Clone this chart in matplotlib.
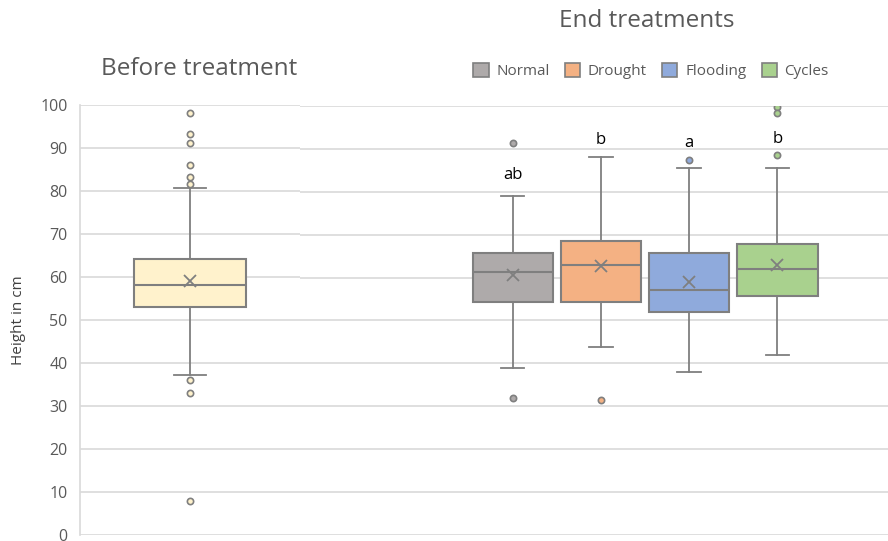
import numpy as np
import matplotlib
matplotlib.use('Agg')
import matplotlib.pyplot as plt
from matplotlib.patches import Patch

plt.rcParams['font.family'] = ['Open Sans', 'DejaVu Sans']

# Before treatment (one group)
before_q1 = 53.0
before_med = 58.1
before_q3 = 64.2
before_mean = 59.0
before_whislo = 37.2
before_whishi = 80.7
before_fliers = [98.1, 93.2, 91.2, 86.1, 83.2, 81.6, 36.0, 33.1, 8.0]

# End treatments
groups = ['Normal', 'Drought', 'Flooding', 'Cycles']
end_q1 = [54.4, 54.3, 52.0, 55.6]
end_med = [61.2, 63.0, 57.1, 61.9]
end_q3 = [65.8, 68.6, 65.8, 67.8]
end_mean = [60.6, 62.6, 58.9, 63.0]
end_whislo = [38.9, 43.9, 38.1, 41.9]
end_whishi = [79.0, 88.1, 85.5, 85.5]
end_fliers = [[91.4, 31.9], [31.5], [87.4], [99.8, 98.4, 88.5]]
letters = ['ab', 'b', 'a', 'b']
letter_y = [82.0, 90.2, 89.5, 90.4]

colors = ['#AEAAAA', '#F4B183', '#8FAADC', '#A9D18E']
before_color = '#FFF2CC'
edge = '#7F7F7F'
txt = '#595959'

W, H = 888, 541
fig = plt.figure(figsize=(W / 100, H / 100), dpi=100)


def add_px_axes(x0, y0, x1, y1):
    return fig.add_axes([x0 / W, 1 - y1 / H, (x1 - x0) / W, (y1 - y0) / H])


ax1 = add_px_axes(80, 105, 300, 535)
ax2 = add_px_axes(300, 106, 990, 535)

for ax in (ax1, ax2):
    ax.set_ylim(0, 100)
    ax.set_yticks(np.arange(0, 101, 10))
    ax.grid(axis='y', color='#D9D9D9', linewidth=1.2)
    ax.set_axisbelow(True)
    for s in ax.spines.values():
        s.set_visible(False)
    ax.tick_params(axis='y', length=0)

ax1.spines['left'].set_visible(True)
ax1.spines['left'].set_color('#D9D9D9')
ax1.spines['left'].set_linewidth(1.2)
ax1.tick_params(axis='y', labelsize=11.5, labelcolor=txt, pad=9)
ax1.set_ylabel('Height in cm', fontsize=11, color='#404040', labelpad=10)
ax2.tick_params(axis='y', labelleft=False)


def draw_box(ax, stat, pos, width, color):
    ax.bxp([stat], positions=[pos], widths=[width], capwidths=[width * 0.29],
           showmeans=True, patch_artist=True,
           boxprops=dict(facecolor=color, edgecolor=edge, linewidth=1.5),
           medianprops=dict(color=edge, linewidth=1.5),
           whiskerprops=dict(color=edge, linewidth=1.3),
           capprops=dict(color=edge, linewidth=1.3),
           meanprops=dict(marker='x', markeredgecolor=edge, markersize=9,
                          markeredgewidth=1.3),
           flierprops=dict(marker='o', markerfacecolor=color,
                           markeredgecolor=edge, markersize=4.5,
                           markeredgewidth=1.2))


before = dict(q1=before_q1, med=before_med, q3=before_q3, mean=before_mean,
              whislo=before_whislo, whishi=before_whishi, fliers=before_fliers)
draw_box(ax1, before, 0.5, 0.51, before_color)
ax1.set_xlim(0, 1)
ax1.set_xticks([])

for i in range(len(groups)):
    st = dict(q1=end_q1[i], med=end_med[i], q3=end_q3[i], mean=end_mean[i],
              whislo=end_whislo[i], whishi=end_whishi[i], fliers=end_fliers[i])
    draw_box(ax2, st, i, 0.91, colors[i])
    ax2.text(i, letter_y[i], letters[i], ha='center', va='bottom',
             fontsize=12, color='black')
ax2.set_xlim(1.5 - 3.91, 1.5 + 3.91)
ax2.set_xticks([])

fig.text(199 / W, 1 - 69 / H, 'Before treatment', ha='center', va='center',
         fontsize=17.5, color=txt)
fig.text(647 / W, 1 - 21 / H, 'End treatments', ha='center', va='center',
         fontsize=17.5, color=txt)

handles = [Patch(facecolor=c, edgecolor=edge, linewidth=1.2, label=g)
           for c, g in zip(colors, groups)]
fig.legend(handles=handles, loc='center', bbox_to_anchor=(651 / W, 1 - 71 / H),
           ncol=4, frameon=False, fontsize=11, labelcolor=txt,
           handlelength=1.0, handleheight=1.0, handletextpad=0.5,
           columnspacing=1.0)

fig.savefig('out.png', dpi=100)
